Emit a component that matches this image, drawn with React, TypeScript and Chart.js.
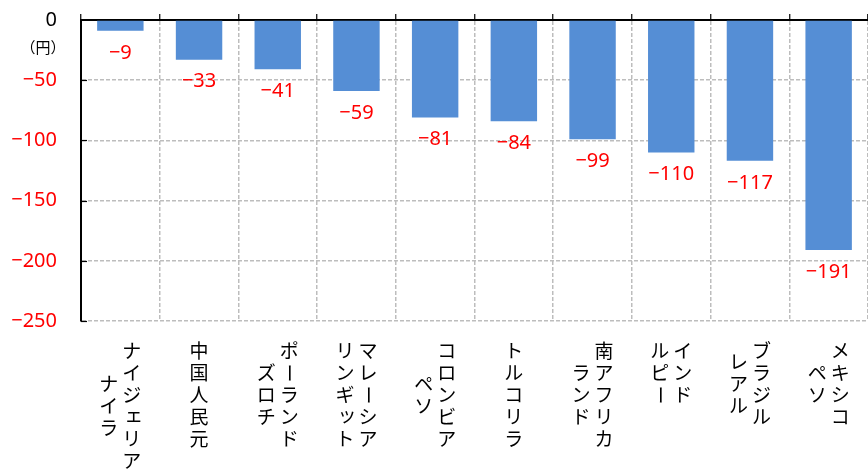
import React, { useEffect, useRef } from 'react';
import { Chart, registerables } from 'chart.js';

Chart.register(...registerables);

// Currency names, written vertically; each inner entry is one column (first column on the right).
const currencies: string[][] = [
  ['ナイジェリア', 'ナイラ'],
  ['中国人民元'],
  ['ポーランド', 'ズロチ'],
  ['マレーシア', 'リンギット'],
  ['コロンビア', 'ペソ'],
  ['トルコリラ'],
  ['南アフリカ', 'ランド'],
  ['インド', 'ルピー'],
  ['ブラジル', 'レアル'],
  ['メキシコ', 'ペソ'],
];

// Change per currency (円)
const changes: number[] = [-9, -33, -41, -59, -81, -84, -99, -110, -117, -191];

const yMin = -250;
const yMax = 0;
const yStep = 50;
const unitLabel = '（円）';

const RED = '#ff0000';
const GRID = '#bdbdbd';
const BAR = '#558ed5';
const NUM_FONT = "'Noto Sans', 'Liberation Sans', sans-serif";
const JP_FONT = "'Noto Sans CJK JP', 'Noto Sans', sans-serif";

const fmt = (v: number) => (v < 0 ? '\u2212' + Math.abs(v) : String(v));

const SMALL_KANA = 'ッャュョァィゥェォ';

const decorations = {
  id: 'decorations',
  afterDatasetsDraw(chart: any) {
    const ctx = chart.ctx as CanvasRenderingContext2D;
    const meta = chart.getDatasetMeta(0);
    ctx.save();
    ctx.fillStyle = RED;
    ctx.font = `20px ${NUM_FONT}`;
    ctx.textAlign = 'center';
    ctx.textBaseline = 'middle';
    meta.data.forEach((bar: any, i: number) => {
      ctx.fillText(fmt(changes[i]), bar.x, bar.y + 22);
    });
    ctx.restore();
  },
  afterDraw(chart: any) {
    const ctx = chart.ctx as CanvasRenderingContext2D;
    const area = chart.chartArea;
    const xs = chart.scales.x;
    const ys = chart.scales.y;

    // short inner tick marks on the value axis
    ctx.save();
    ctx.strokeStyle = '#000';
    ctx.lineWidth = 1.2;
    for (let v = yMin; v < yMax; v += yStep) {
      const y = Math.round(ys.getPixelForValue(v)) + 0.5;
      ctx.beginPath();
      ctx.moveTo(area.left, y);
      ctx.lineTo(area.left + 6, y);
      ctx.stroke();
    }
    ctx.restore();

    // unit label under the zero tick
    ctx.save();
    ctx.fillStyle = '#000';
    ctx.font = `15px ${JP_FONT}`;
    ctx.textAlign = 'center';
    ctx.textBaseline = 'middle';
    ctx.fillText(unitLabel, 43, ys.getPixelForValue(0) + 27);
    ctx.restore();

    // vertical category labels
    const pitch = 22;
    const colGap = 23;
    ctx.save();
    ctx.fillStyle = '#000';
    ctx.font = `19px ${JP_FONT}`;
    ctx.textAlign = 'center';
    ctx.textBaseline = 'middle';
    const labels = chart.data.labels as string[][];
    labels.forEach((cols, i) => {
      const cx = xs.getPixelForValue(i);
      const n = cols.length;
      const maxLen = Math.max(...cols.map((c) => [...c].length));
      cols.forEach((col, j) => {
        const chars = [...col];
        const x = cx + ((n - 1) / 2 - j) * colGap;
        const top = area.bottom + 30 + ((maxLen - chars.length) * pitch) / 2;
        chars.forEach((ch, k) => {
          const y = top + k * pitch;
          if (ch === 'ー') {
            ctx.save();
            ctx.translate(x, y);
            ctx.rotate(Math.PI / 2);
            ctx.fillText(ch, 0, 0);
            ctx.restore();
          } else if (SMALL_KANA.includes(ch)) {
            ctx.fillText(ch, x + 2, y - 2);
          } else {
            ctx.fillText(ch, x, y);
          }
        });
      });
    });
    ctx.restore();
  },
};

export default function App() {
  const canvasRef = useRef<HTMLCanvasElement | null>(null);

  useEffect(() => {
    const canvas = canvasRef.current;
    if (!canvas) return;
    const chart = new Chart(canvas, {
      type: 'bar',
      data: {
        labels: currencies as any,
        datasets: [
          {
            data: changes,
            backgroundColor: BAR,
            borderWidth: 0,
            barPercentage: 0.59,
            categoryPercentage: 1,
          },
        ],
      },
      options: {
        responsive: false,
        animation: false,
        layout: { padding: { top: 0, left: 0, right: 0, bottom: 150 } },
        plugins: {
          legend: { display: false },
          tooltip: { enabled: false },
        },
        scales: {
          x: {
            type: 'category',
            position: 'top',
            offset: true,
            grid: {
              offset: true,
              color: GRID,
              lineWidth: 1.5,
              drawTicks: true,
              tickLength: 6,
              tickColor: '#000',
              tickWidth: 1.2,
              tickBorderDash: [],
            } as any,
            border: { display: true, color: '#000', width: 2, dash: [4, 2] },
            ticks: { display: false },
            afterFit: (s: any) => {
              s.height = 20;
              s.paddingLeft = 0;
              s.paddingRight = 0;
            },
          },
          y: {
            min: yMin,
            max: yMax,
            ticks: {
              stepSize: yStep,
              padding: 24,
              color: (c: any) => (c.tick && c.tick.value === 0 ? '#000' : RED),
              font: { family: NUM_FONT, size: 20 },
              callback: (v: any) => fmt(Number(v)),
            },
            grid: { color: GRID, lineWidth: 1.5, drawTicks: false },
            border: { display: true, color: '#000', width: 2, dash: [4, 2] },
            afterFit: (s: any) => {
              s.width = 81;
              s.paddingTop = 0;
              s.paddingBottom = 0;
            },
          },
        },
      },
      plugins: [decorations],
    });
    return () => chart.destroy();
  }, []);

  return (
    <div style={{ position: 'absolute', left: 0, top: 0, width: 868, height: 471, background: '#fff' }}>
      <canvas ref={canvasRef} width={868} height={471} style={{ display: 'block' }} />
    </div>
  );
}
